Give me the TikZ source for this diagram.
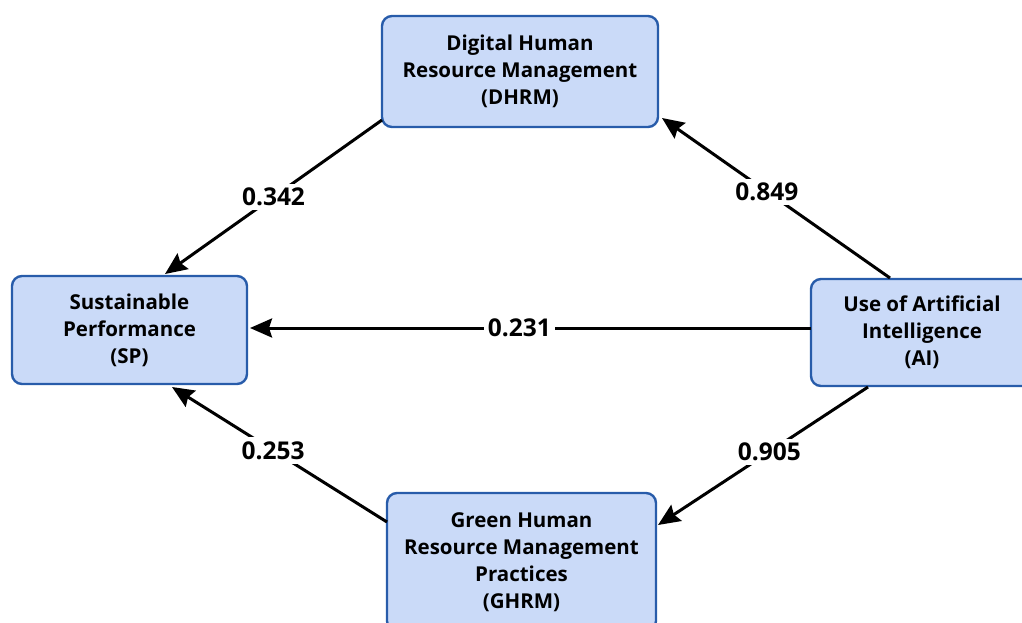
\documentclass[tikz,border=0pt]{standalone}
\usepackage{fontspec}
\setmainfont{Open Sans}
\usetikzlibrary{arrows.meta}
\definecolor{boxfill}{RGB}{202,218,248}
\definecolor{boxline}{RGB}{40,92,170}
\begin{document}
\begin{tikzpicture}[x=1pt,y=-1pt]
\tikzstyle{construct}=[draw=boxline,fill=boxfill,line width=2.4pt,rounded corners=10pt,align=center,font=\bfseries\fontsize{20.5}{27}\selectfont,inner sep=0pt]
\tikzstyle{path}=[black,line width=3pt,-{Stealth[length=22pt,width=19pt,inset=3pt]}]
\tikzstyle{coef}=[fill=white,inner sep=4pt,font=\bfseries\fontsize{24.5}{27}\selectfont]
\useasboundingbox (0,0) rectangle (1022,622);
% constructs
\node [construct,minimum width=276pt,minimum height=111pt] (dhrm) at (520,71.5) {Digital Human\\Resource Management\\(DHRM)};
\node [construct,minimum width=235pt,minimum height=108pt] (sp) at (129.5,330) {Sustainable\\Performance\\(SP)};
\node [construct,minimum width=222pt,minimum height=107pt] (ai) at (922,332.5) {Use of Artificial\\Intelligence\\(AI)};
\node [construct,minimum width=269pt,minimum height=138pt] (ghrm) at (521.5,562) {Green Human\\Resource Management\\Practices\\(GHRM)};
% paths
\coordinate (dhrmout) at (382,120);
\coordinate (spin1) at (165,274);
\coordinate (aiout1) at (890,278);
\coordinate (dhrmin) at (662,118);
\coordinate (aiout2) at (811,328);
\coordinate (spin2) at (250,328);
\coordinate (aiout3) at (868,387);
\coordinate (ghrmin) at (658,525);
\coordinate (ghrmout) at (387,522);
\coordinate (spin3) at (172,387);
\draw [path] (dhrmout) -- node [coef,pos=0.5] {0.342} (spin1);
\draw [path] (aiout1) -- node [coef,pos=0.54] {0.849} (dhrmin);
\draw [path] (aiout2) -- node [coef,pos=0.52] {0.231} (spin2);
\draw [path] (aiout3) -- node [coef,pos=0.47] {0.905} (ghrmin);
\draw [path] (ghrmout) -- node [coef,pos=0.53] {0.253} (spin3);
\end{tikzpicture}
\end{document}
